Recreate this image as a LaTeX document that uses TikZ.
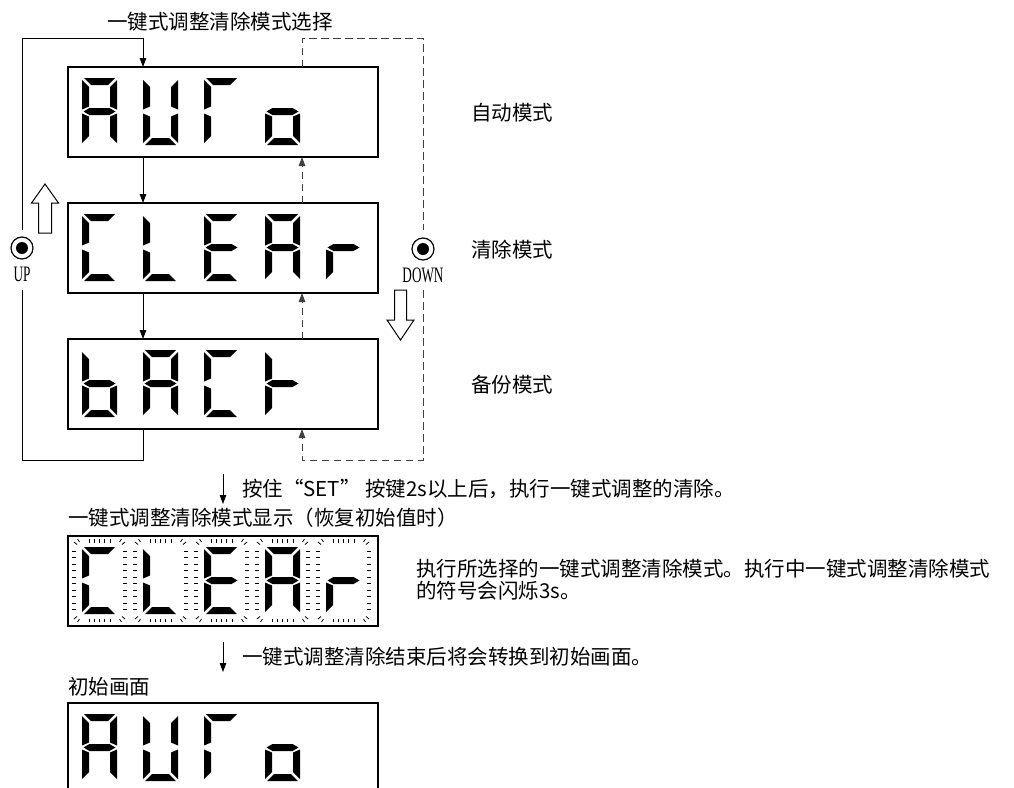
\documentclass[tikz,border=0pt]{standalone}
\usepackage{fontspec}
\usepackage{graphicx}
\setmainfont{Liberation Serif}
\newfontfamily\cjk{Noto Sans CJK SC}
\usetikzlibrary{calc,arrows.meta}
% seven-segment pieces, local coords (x right, y down), digit 35 x 67
\newcommand\dsega{\fill (2,0)--(33,0)--(26,7)--(9,7)--cycle;}
\newcommand\dsegb{\fill (35,2)--(35,31.5)--(28,28.5)--(28,9)--cycle;}
\newcommand\dsegc{\fill (35,35.5)--(35,65)--(28,58)--(28,38.5)--cycle;}
\newcommand\dsegd{\fill (2,67)--(33,67)--(26,60)--(9,60)--cycle;}
\newcommand\dsege{\fill (0,35.5)--(7,38.5)--(7,58)--(0,65)--cycle;}
\newcommand\dsegf{\fill (0,2)--(7,9)--(7,28.5)--(0,31.5)--cycle;}
\newcommand\dsegg{\fill (1.5,33.5)--(7.5,30)--(27.5,30)--(33.5,33.5)--(27.5,37)--(7.5,37)--cycle;}
\newcommand\sdigit[3]{\begin{scope}[shift={(#1,#2)}]\foreach \s in {#3}{\csname dseg\s\endcsname}\end{scope}}
\newcommand\halo[2]{\begin{scope}[shift={(#1,#2)},line width=0.8pt]
  \foreach \k in {0,...,9}{\draw (-10,4+6.5*\k)--(-6,4+6.5*\k); \draw (41,4+6.5*\k)--(45,4+6.5*\k);}
  \foreach \u in {7,12.25,17.5,22.75,28}{\draw (\u,-8)--(\u,-4.5); \draw (\u,71.5)--(\u,75);}
  \draw (-4.5,-8)--(-2.5,-5) (-8,-5)--(-5,-2.5);
  \draw (39.5,-8)--(37.5,-5) (43,-5)--(40,-2.5);
  \draw (-4.5,75)--(-2.5,72) (-8,72)--(-5,69.5);
  \draw (39.5,75)--(37.5,72) (43,72)--(40,69.5);
\end{scope}}
\tikzset{
  dbox/.style={draw, line width=1.25pt, minimum width=310pt, minimum height=90pt, inner sep=0pt, outer sep=0pt},
  arr/.style={-{Triangle[length=9pt,width=6.5pt]}},
  conn/.style={line width=0.9pt},
  dsh/.style={conn, draw=black!75, dash pattern=on 7.5pt off 4.5pt},
  lab/.style={font=\cjk\fontsize{20.5}{22}\selectfont, inner sep=0pt, anchor=west},
  latn/.style={font=\fontsize{22}{22}\selectfont, inner sep=0pt},
  hollow/.style={line width=1pt, fill=white}
}
\begin{document}
\begin{tikzpicture}[x=1pt,y=-1pt]
\useasboundingbox (0,0) rectangle (1014,787);
% display boxes
\node[dbox] (b1) at (223,112) {};
\node[dbox] (b2) at (223,248) {};
\node[dbox] (b3) at (223,384) {};
\node[dbox] (fb) at (223,581) {};
\coordinate (bb) at (223,703);
\draw[line width=1.25pt] (68,795) -- (68,703) -- (378,703) -- (378,795);
% digits
\sdigit{82}{78}{a,b,c,e,f,g}\sdigit{143}{78}{b,c,d,e,f}\sdigit{204}{78}{a,e,f}\sdigit{265}{78}{c,d,e,g}
\sdigit{82}{214}{a,d,e,f}\sdigit{143}{214}{d,e,f}\sdigit{204}{214}{a,d,e,f,g}\sdigit{265}{214}{a,b,c,e,f,g}\sdigit{326}{214}{e,g}
\sdigit{82}{350}{c,d,e,f,g}\sdigit{143}{350}{a,b,c,e,f,g}\sdigit{204}{350}{a,d,e,f}\sdigit{265}{350}{e,f,g}
\sdigit{82}{547}{a,d,e,f}\sdigit{143}{547}{d,e,f}\sdigit{204}{547}{a,d,e,f,g}\sdigit{265}{547}{a,b,c,e,f,g}\sdigit{326}{547}{e,g}
\halo{82}{547}\halo{143}{547}\halo{204}{547}\halo{265}{547}\halo{326}{547}
\sdigit{82}{714}{a,b,c,e,f,g}\sdigit{143}{714}{b,c,d,e,f}\sdigit{204}{714}{a,e,f}\sdigit{265}{714}{c,d,e,g}
% title
\node[lab] (title) at (107,22) {一键式调整清除模式选择};
% UP / DOWN keys
\node[circle, draw, line width=1.2pt, minimum size=22pt, inner sep=0pt] (up) at (22,248) {};
\node[circle, fill, minimum size=12pt, inner sep=0pt] (updot) at (up.center) {};
\node[latn] (uplab) at (22,274) {\scalebox{0.6}[1]{UP}};
\node[circle, draw, line width=1.2pt, minimum size=22pt, inner sep=0pt] (dn) at (423,249) {};
\node[circle, fill, minimum size=12pt, inner sep=0pt] (dndot) at (dn.center) {};
\node[latn] (dnlab) at (423,275) {\scalebox{0.6}[1]{DOWN}};
\draw[hollow] (45,184)--(58.5,203)--(51.5,203)--(51.5,233)--(38.5,233)--(38.5,203)--(31.5,203)--cycle;
\draw[hollow] (394.5,290)--(406.5,290)--(406.5,320)--(414,320)--(400.5,340)--(387,320)--(394.5,320)--cycle;
% solid loop (UP)
\coordinate (lt) at (22,38);
\coordinate (lg1) at (22,230);
\coordinate (lg2) at (22,290);
\coordinate (lb) at (22,460);
\draw[conn,arr] (lg1) -- (lt) -| ($(b1.north west)+(75,0)$);
\draw[conn] (lg2) -- (lb) -| ($(b3.south west)+(75,0)$);
\draw[conn,arr] ($(b1.south west)+(75,0)$) -- ($(b2.north west)+(75,0)$);
\draw[conn,arr] ($(b2.south west)+(75,0)$) -- ($(b3.north west)+(75,0)$);
% dashed loop (DOWN)
\coordinate (rt) at (423,38);
\coordinate (rg1) at (423,230);
\coordinate (rg2) at (423,290);
\coordinate (rb) at (423,460);
\draw[dsh] ($(b1.north west)+(234,0)$) |- (rt) -- (rg1);
\draw[dsh,arr] (rg2) -- (rb) -| ($(b3.south west)+(234,0)$);
\draw[dsh,arr] ($(b3.north west)+(234,0)$) -- ($(b2.south west)+(234,0)$);
\draw[dsh,arr] ($(b2.north west)+(234,0)$) -- ($(b1.south west)+(234,0)$);
% mode labels
\node[lab] (m1) at (471,113) {自动模式};
\node[lab] (m2) at (471,250) {清除模式};
\node[lab] (m3) at (471,385) {备份模式};
% lower part
\coordinate (a1s) at (223,474);
\coordinate (a1e) at (223,504);
\draw[conn,arr] (a1s) -- (a1e);
\node[lab] (t1) at (242,489) {按住“SET” 按键2s以上后，执行一键式调整的清除。};
\node[lab] (t2) at (68,518) {一键式调整清除模式显示（恢复初始值时）};
\node[lab, align=left] (t3) at (416,580) {执行所选择的一键式调整清除模式。执行中一键式调整清除模式\\的符号会闪烁3s。};
\coordinate (a2s) at (223,642);
\coordinate (a2e) at (223,672);
\draw[conn,arr] (a2s) -- (a2e);
\node[lab] (t4) at (242,657) {一键式调整清除结束后将会转换到初始画面。};
\node[lab] (t5) at (68,687) {初始画面};
\end{tikzpicture}
\end{document}
